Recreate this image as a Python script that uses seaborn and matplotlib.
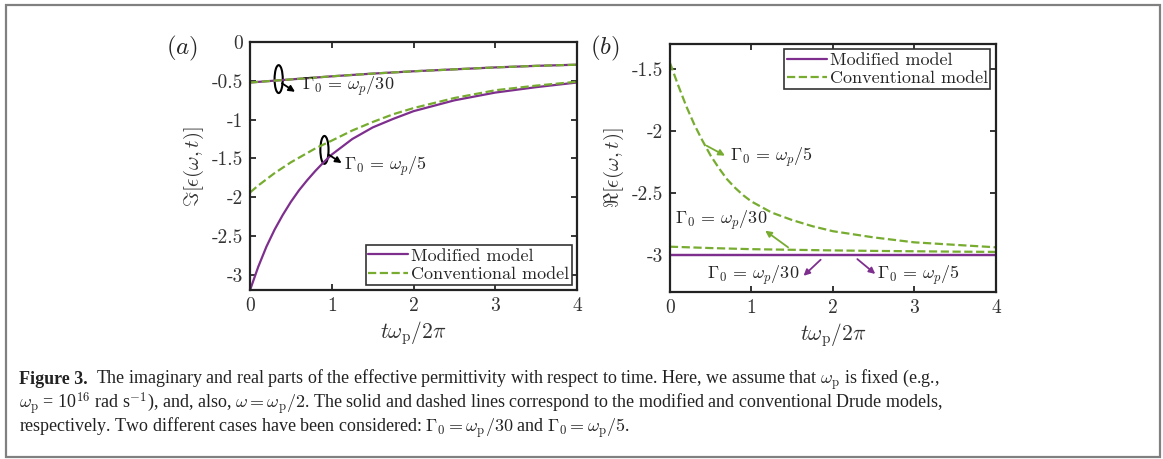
import matplotlib
matplotlib.use("Agg")
import matplotlib.pyplot as plt
import matplotlib.patches as patches
import numpy as np
import pandas as pd
import seaborn as sns

# ---------------------------------------------------------------------------
# Values (t in units of 2*pi/omega_p)
# ---------------------------------------------------------------------------
t_g30 = [0.0, 0.5, 1.0, 1.5, 2.0, 2.5, 3.0, 3.5, 4.0]
im_mod_g30 = [-0.52, -0.48, -0.44, -0.405, -0.375, -0.35, -0.325, -0.305, -0.29]
im_conv_g30 = [-0.52, -0.48, -0.44, -0.405, -0.375, -0.35, -0.325, -0.305, -0.29]

t_g5 = [0.0, 0.1, 0.2, 0.3, 0.4, 0.5, 0.6, 0.7, 0.8, 0.9, 1.0,
        1.25, 1.5, 1.75, 2.0, 2.5, 3.0, 3.5, 4.0]
im_mod_g5 = [-3.20, -2.90, -2.64, -2.42, -2.23, -2.06, -1.91, -1.78, -1.66, -1.55, -1.45,
             -1.25, -1.10, -0.99, -0.89, -0.75, -0.65, -0.58, -0.52]
im_conv_g5 = [-1.94, -1.85, -1.77, -1.69, -1.62, -1.55, -1.49, -1.43, -1.37, -1.32, -1.27,
              -1.14, -1.03, -0.93, -0.85, -0.72, -0.62, -0.56, -0.51]

re_mod_g30 = [-3.0] * len(t_g30)
re_conv_g30 = [-2.935, -2.946, -2.955, -2.960, -2.965, -2.969, -2.972, -2.975, -2.977]
re_mod_g5 = [-3.0] * len(t_g5)
re_conv_g5 = [-1.45, -1.63, -1.80, -1.95, -2.08, -2.20, -2.30, -2.39, -2.46, -2.52, -2.57,
              -2.66, -2.72, -2.77, -2.81, -2.86, -2.90, -2.92, -2.94]

xticks = [0, 1, 2, 3, 4]
yticks_a = [0, -0.5, -1, -1.5, -2, -2.5, -3]
yticks_b = [-1.5, -2, -2.5, -3]

purple = "#7E2F8E"
green = "#77AC30"

sns.set_style("ticks")
plt.rcParams["font.family"] = ["cmr10", "DejaVu Serif"]
plt.rcParams["mathtext.fontset"] = "cm"
plt.rcParams["axes.unicode_minus"] = False
plt.rcParams["axes.formatter.use_mathtext"] = True


def tick_fmt(v):
    return "%g" % v


fig = plt.figure(figsize=(11.63, 4.59), dpi=100)
ax_a = fig.add_axes([0.215, 0.368, 0.2812, 0.540])
ax_b = fig.add_axes([0.576, 0.364, 0.2803, 0.540])

# ---------------- panel (a): imaginary part ----------------
for t, y, c, ls in [(t_g30, im_mod_g30, purple, "-"), (t_g5, im_mod_g5, purple, "-"),
                    (t_g30, im_conv_g30, green, "--"), (t_g5, im_conv_g5, green, "--")]:
    sns.lineplot(x=t, y=y, ax=ax_a, color=c, linestyle=ls, lw=1.6)
ax_a.plot([], [], color=purple, lw=1.6, label="Modified model")
ax_a.plot([], [], color=green, lw=1.6, ls="--", label="Conventional model")

ax_a.set_xlim(0, 4)
ax_a.set_ylim(-3.2, 0)
ax_a.set_yticks(yticks_a)
ax_a.set_yticklabels([tick_fmt(v) for v in yticks_a])
ax_a.set_ylabel(r"$\Im[\epsilon(\omega,t)]$", fontsize=15, color="#333333", labelpad=4)

for cx, cy in [(0.35, -0.476), (0.91, -1.39)]:
    ax_a.add_patch(patches.Ellipse((cx, cy), 0.1, 0.36, fill=False, ec="black", lw=1.5))
arr = dict(arrowstyle="-|>", color="black", lw=1.3, mutation_scale=9, shrinkA=0, shrinkB=0)
ax_a.annotate("", xy=(0.55, -0.64), xytext=(0.39, -0.53), arrowprops=arr)
ax_a.annotate("", xy=(1.12, -1.56), xytext=(0.96, -1.45), arrowprops=arr)
ax_a.text(0.63, -0.575, r"$\Gamma_0\,=\,\omega_p/30$", fontsize=13, va="center", ha="left")
ax_a.text(1.15, -1.60, r"$\Gamma_0\,=\,\omega_p/5$", fontsize=13, va="center", ha="left")

# ---------------- panel (b): real part ----------------
for t, y, c, ls in [(t_g30, re_mod_g30, purple, "-"), (t_g5, re_mod_g5, purple, "-"),
                    (t_g30, re_conv_g30, green, "--"), (t_g5, re_conv_g5, green, "--")]:
    sns.lineplot(x=t, y=y, ax=ax_b, color=c, linestyle=ls, lw=1.6)
ax_b.plot([], [], color=purple, lw=1.6, label="Modified model")
ax_b.plot([], [], color=green, lw=1.6, ls="--", label="Conventional model")

ax_b.set_xlim(0, 4)
ax_b.set_ylim(-3.3, -1.3)
ax_b.set_yticks(yticks_b)
ax_b.set_yticklabels([tick_fmt(v) for v in yticks_b])
ax_b.set_ylabel(r"$\Re[\epsilon(\omega,t)]$", fontsize=15, color="#333333", labelpad=4)

garr = dict(arrowstyle="-|>", color=green, lw=1.3, mutation_scale=9, shrinkA=0, shrinkB=0)
parr = dict(arrowstyle="-|>", color=purple, lw=1.3, mutation_scale=9, shrinkA=0, shrinkB=0)
ax_b.annotate("", xy=(0.675, -2.20), xytext=(0.45, -2.12), arrowprops=garr)
ax_b.annotate("", xy=(1.17, -2.806), xytext=(1.45, -2.94), arrowprops=garr)
ax_b.annotate("", xy=(1.64, -3.17), xytext=(1.85, -3.04), arrowprops=parr)
ax_b.annotate("", xy=(2.52, -3.155), xytext=(2.30, -3.035), arrowprops=parr)
ax_b.text(0.736, -2.215, r"$\Gamma_0\,=\,\omega_p/5$", fontsize=13, va="center", ha="left")
ax_b.text(0.06, -2.726, r"$\Gamma_0\,=\,\omega_p/30$", fontsize=13, va="center", ha="left")
ax_b.text(1.59, -3.17, r"$\Gamma_0\,=\,\omega_p/30$", fontsize=13, va="center", ha="right")
ax_b.text(2.54, -3.165, r"$\Gamma_0\,=\,\omega_p/5$", fontsize=13, va="center", ha="left")

# ---------------- common axis styling ----------------
for ax, loc in [(ax_a, "lower right"), (ax_b, "upper right")]:
    ax.set_xticks(xticks)
    ax.set_xticklabels([tick_fmt(v) for v in xticks])
    ax.set_xlabel(r"$t\omega_{\rm p}/2\pi$", fontsize=15.5, color="#333333", labelpad=3)
    ax.tick_params(direction="in", top=True, right=True, length=4, width=1.3,
                   labelsize=14, labelcolor="#333333", pad=5)
    for s in ax.spines.values():
        s.set_linewidth(1.6)
        s.set_color("#222222")
    leg = ax.legend(loc=loc, fontsize=13, frameon=True, fancybox=False, framealpha=1,
                    edgecolor="#333333", handlelength=2.2, handletextpad=0.15,
                    borderpad=0.15, labelspacing=0.15, borderaxespad=0.3)
    leg.get_frame().set_linewidth(1.2)

fig.text(181.7 / 1163, 1 - 48.3 / 459, r"$(a)$", fontsize=18, ha="center", va="center")
fig.text(605 / 1163, 1 - 48 / 459, r"$(b)$", fontsize=18, ha="center", va="center")

# ---------------- caption ----------------
cap_font = dict(family="Liberation Serif", fontsize=13, color="#222222")
t1 = fig.text(19 / 1163, 1 - 380 / 459, "Figure 3.", fontweight="bold", va="center", **cap_font)
ax_a.annotate(r"The imaginary and real parts of the effective permittivity with respect to time. "
              r"Here, we assume that $\omega_{\rm p}$ is fixed (e.g.,",
              xy=(1, 0.5), xycoords=t1, xytext=(6, 0), textcoords="offset points",
              va="center", ha="left", annotation_clip=False, **cap_font)
fig.text(19 / 1163, 1 - 404 / 459,
         r"$\omega_{\rm p}$ = 10$^{16}$ rad s$^{-1}$), and, also, $\omega = \omega_{\rm p}/2$. "
         r"The solid and dashed lines correspond to the modified and conventional Drude models,",
         va="center", **cap_font)
fig.text(19 / 1163, 1 - 428 / 459,
         r"respectively. Two different cases have been considered: "
         r"$\Gamma_0 = \omega_{\rm p}/30$ and $\Gamma_0 = \omega_{\rm p}/5$.",
         va="center", **cap_font)

fig.add_artist(patches.Rectangle((6 / 1163, 1 - 457 / 459), 1154 / 1163, 452 / 459,
                                 transform=fig.transFigure, fill=False, ec="#808080", lw=1.6))

fig.savefig("out.png", dpi=100)
